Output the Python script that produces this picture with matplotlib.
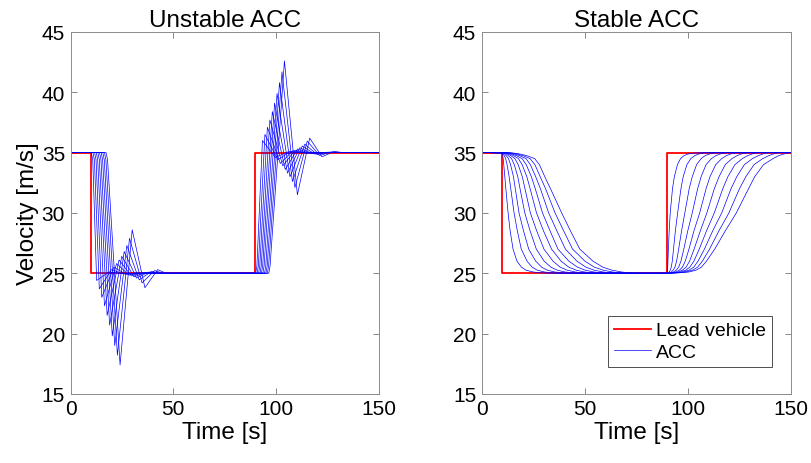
import matplotlib
matplotlib.use('Agg')
import matplotlib.pyplot as plt

plt.rcParams['font.family'] = ['Liberation Sans', 'DejaVu Sans']

# Lead vehicle profile
lead_t = [0, 10, 10, 90, 90, 150]
lead_v = [35, 35, 25, 25, 35, 35]

# ---------------- Unstable ACC: key points of each follower ----------------
# braking phase (lead drops to 25 m/s at t = 10 s)
un_dn_leave = [10.1, 10.9, 11.7, 12.5, 13.3, 14.1, 14.9, 15.7, 16.5, 17.3]
un_dn_trough_t = [12.7, 14.0, 15.2, 16.5, 17.8, 19.0, 20.3, 21.5, 22.8, 24.1]
un_dn_trough_v = [24.4, 23.7, 23.0, 22.3, 21.5, 20.7, 19.8, 19.0, 18.2, 17.4]
un_dn_peak_t = [18.6, 19.9, 21.1, 22.4, 23.6, 24.9, 26.1, 27.4, 28.7, 30.0]
un_dn_peak_v = [25.1, 25.3, 25.5, 25.8, 26.1, 26.4, 26.8, 27.3, 27.9, 28.6]
un_dn_dip_t = [24.6, 25.9, 27.1, 28.4, 29.6, 30.9, 32.1, 33.4, 34.8, 36.2]
un_dn_dip_v = [24.97, 24.94, 24.9, 24.85, 24.78, 24.7, 24.6, 24.45, 24.2, 23.8]
un_dn_bump_t = [30.6, 31.9, 33.1, 34.4, 35.6, 36.9, 38.1, 39.4, 40.9, 42.4]
un_dn_bump_v = [25.0, 25.01, 25.02, 25.03, 25.05, 25.07, 25.1, 25.15, 25.22, 25.3]
un_dn_settle = [34.6, 35.9, 37.1, 38.4, 39.6, 40.9, 42.1, 43.4, 44.9, 46.4]

# acceleration phase (lead goes back to 35 m/s at t = 90 s)
un_up_leave = [90.1, 90.8, 91.5, 92.2, 92.9, 93.6, 94.4, 95.1, 95.8, 96.5]
un_up_peak_t = [93.4, 94.6, 95.8, 97.0, 98.2, 99.3, 100.5, 101.7, 102.9, 104.1]
un_up_peak_v = [36.0, 36.5, 37.1, 37.7, 38.4, 39.1, 39.9, 40.8, 41.7, 42.6]
un_up_trough_t = [99.7, 100.9, 102.1, 103.3, 104.5, 105.6, 106.8, 108.0, 109.2, 110.4]
un_up_trough_v = [34.6, 34.4, 34.1, 33.9, 33.6, 33.3, 33.0, 32.6, 32.1, 31.5]
un_up_over_t = [105.7, 106.9, 108.1, 109.3, 110.5, 111.6, 112.8, 114.0, 115.2, 116.4]
un_up_over_v = [35.05, 35.1, 35.15, 35.2, 35.3, 35.4, 35.55, 35.7, 35.95, 36.2]
un_up_dip_t = [111.7, 112.9, 114.1, 115.3, 116.5, 117.6, 118.8, 120.0, 121.2, 122.4]
un_up_dip_v = [34.99, 34.98, 34.97, 34.96, 34.94, 34.92, 34.88, 34.84, 34.76, 34.65]
un_up_bump_t = [117.7, 118.9, 120.1, 121.3, 122.5, 123.6, 124.8, 126.0, 127.2, 128.4]
un_up_bump_v = [35.0, 35.0, 35.0, 35.01, 35.01, 35.02, 35.03, 35.04, 35.06, 35.1]
un_up_settle = [121.7, 122.9, 124.1, 125.3, 126.5, 127.6, 128.8, 130.0, 131.2, 132.4]

# ---------------- Stable ACC: times at which each follower crosses a level ----------------
st_dn_levels = [34.98, 34.9, 34.75, 34.5, 34.0, 33, 32, 30, 28.5, 27, 26, 25.5, 25.25, 25.1, 25.03, 25]
st_dn_times = [
    [10.0, 10.1, 10.3, 10.6, 11.0, 11.5, 12.1, 12.8, 13.6, 14.5],
    [10.1, 10.5, 11.0, 11.7, 12.5, 13.4, 14.4, 15.5, 16.7, 18.0],
    [10.2, 10.9, 11.8, 12.9, 14.1, 15.4, 16.8, 18.4, 20.0, 21.8],
    [10.4, 11.6, 13.0, 14.5, 16.1, 17.8, 19.6, 21.5, 23.5, 25.7],
    [10.7, 12.3, 14.0, 15.8, 17.7, 19.6, 21.6, 23.6, 25.8, 28.0],
    [11.2, 13.3, 15.4, 17.5, 19.7, 21.9, 24.1, 26.2, 28.4, 30.6],
    [11.7, 14.1, 16.3, 18.6, 21.0, 23.5, 26.0, 28.5, 31.0, 33.4],
    [12.8, 15.7, 18.1, 20.9, 23.6, 26.6, 29.5, 32.5, 35.6, 38.8],
    [13.8, 17.3, 20.3, 23.5, 26.7, 30.0, 33.2, 36.5, 39.8, 43.1],
    [15.2, 19.2, 22.8, 26.5, 30.2, 33.9, 37.0, 40.6, 44.1, 47.6],
    [17.1, 22.0, 26.2, 30.3, 34.6, 38.5, 42.3, 46.2, 50.1, 54.0],
    [19.3, 24.5, 29.1, 33.6, 38.1, 42.3, 46.5, 50.6, 54.7, 58.8],
    [21.5, 27.0, 31.9, 36.7, 41.5, 45.9, 50.3, 54.6, 59.0, 63.3],
    [25.0, 30.5, 35.5, 40.5, 45.5, 50.0, 54.5, 59.0, 63.5, 68.0],
    [29.0, 34.5, 39.5, 44.5, 49.5, 54.0, 58.5, 63.0, 67.5, 72.0],
    [34.0, 39.0, 44.0, 49.0, 54.0, 59.0, 64.0, 68.0, 72.0, 76.0],
]
st_up_levels = [25.03, 25.1, 25.25, 25.5, 26, 27, 28.5, 30, 32, 33, 34, 34.5, 34.75, 34.9, 34.97, 35]
st_up_times = [
    [90.0, 90.3, 90.7, 91.2, 91.8, 92.4, 93.1, 93.8, 94.6, 95.5],
    [90.1, 91.0, 92.0, 93.1, 94.2, 95.3, 96.5, 97.7, 99.0, 100.5],
    [90.2, 91.5, 92.9, 94.4, 95.9, 97.4, 99.0, 100.6, 102.3, 104.0],
    [90.3, 92.0, 93.8, 95.6, 97.4, 99.2, 101.0, 102.9, 104.8, 106.6],
    [90.4, 92.5, 94.6, 96.7, 98.8, 100.9, 103.0, 105.0, 107.1, 109.1],
    [90.6, 93.1, 95.6, 98.1, 100.6, 103.1, 105.6, 108.1, 110.6, 113.1],
    [91.0, 94.0, 97.0, 100.0, 103.0, 106.1, 109.1, 112.1, 115.1, 118.2],
    [91.5, 95.1, 98.6, 102.2, 105.8, 109.3, 112.9, 116.5, 120.0, 123.6],
    [92.6, 96.7, 100.7, 104.8, 108.9, 112.9, 117.0, 121.0, 125.1, 129.5],
    [93.5, 97.8, 102.2, 106.5, 110.8, 115.2, 119.5, 123.8, 128.2, 132.5],
    [95.0, 99.6, 104.3, 108.9, 113.6, 118.2, 122.9, 127.5, 132.2, 136.8],
    [96.5, 101.5, 106.5, 111.5, 116.5, 121.5, 126.5, 131.4, 136.4, 141.4],
    [98.2, 103.4, 108.5, 113.7, 118.8, 124.0, 129.1, 134.3, 139.4, 144.2],
    [100.5, 105.7, 110.8, 116.0, 121.2, 126.3, 131.5, 136.7, 141.8, 147.0],
    [103.5, 108.5, 113.5, 118.5, 123.5, 128.5, 133.5, 138.5, 143.5, 149.0],
    [108.0, 113.0, 118.0, 123.0, 128.0, 133.0, 138.0, 143.0, 148.0, 150.0],
]

n_acc = len(un_dn_leave)

fig = plt.figure(figsize=(8.11, 4.64), dpi=100)
ax1 = fig.add_axes([0.087, 0.149, 0.380, 0.780])
ax2 = fig.add_axes([0.594, 0.149, 0.381, 0.780])

# Unstable panel
ax1.plot(lead_t, lead_v, color=(1, 0, 0), lw=1.3)
for i in range(n_acc):
    t = [0, un_dn_leave[i], un_dn_leave[i] + 0.7, un_dn_trough_t[i], un_dn_peak_t[i],
         un_dn_dip_t[i], un_dn_bump_t[i], un_dn_settle[i],
         un_up_leave[i], un_up_leave[i] + 0.6, un_up_peak_t[i], un_up_trough_t[i],
         un_up_over_t[i], un_up_dip_t[i], un_up_bump_t[i], un_up_settle[i], 150]
    v = [35, 35, 34.4, un_dn_trough_v[i], un_dn_peak_v[i],
         un_dn_dip_v[i], un_dn_bump_v[i], 25,
         25, 25.6, un_up_peak_v[i], un_up_trough_v[i],
         un_up_over_v[i], un_up_dip_v[i], un_up_bump_v[i], 35, 35]
    ax1.plot(t, v, color=(0, 0, 1), lw=0.5)

# Stable panel
ax2.plot(lead_t, lead_v, color=(1, 0, 0), lw=1.3, label='Lead vehicle')
for i in range(n_acc):
    t = [0] + [row[i] for row in st_dn_times] + [90] + [row[i] for row in st_up_times] + [150]
    v = [35] + st_dn_levels + [25] + st_up_levels + [35]
    ax2.plot(t, v, color=(0, 0, 1), lw=0.5, label='ACC' if i == 0 else None)

for ax, title in [(ax1, 'Unstable ACC'), (ax2, 'Stable ACC')]:
    ax.set_xlim(0, 150)
    ax.set_ylim(15, 45)
    ax.set_xticks([0, 50, 100, 150])
    ax.set_yticks([15, 20, 25, 30, 35, 40, 45])
    ax.set_title(title, fontsize=17.5, pad=4)
    ax.set_xlabel('Time [s]', fontsize=17.5, labelpad=2)
    ax.tick_params(direction='in', top=True, right=True, labelsize=15,
                   length=4, width=0.6, color='0.45', pad=4)
    for s in ax.spines.values():
        s.set_color('0.55')
        s.set_linewidth(0.7)

ax1.set_ylabel('Velocity [m/s]', fontsize=17.5, labelpad=2)

leg = ax2.legend(loc='lower right', bbox_to_anchor=(0.94, 0.075), borderaxespad=0,
                 fontsize=14, fancybox=False, framealpha=1, handlelength=1.9,
                 handletextpad=0.3, borderpad=0.3, labelspacing=0.2)
leg.get_frame().set_edgecolor('0.3')
leg.get_frame().set_linewidth(0.7)

fig.savefig('out.png', dpi=100)
